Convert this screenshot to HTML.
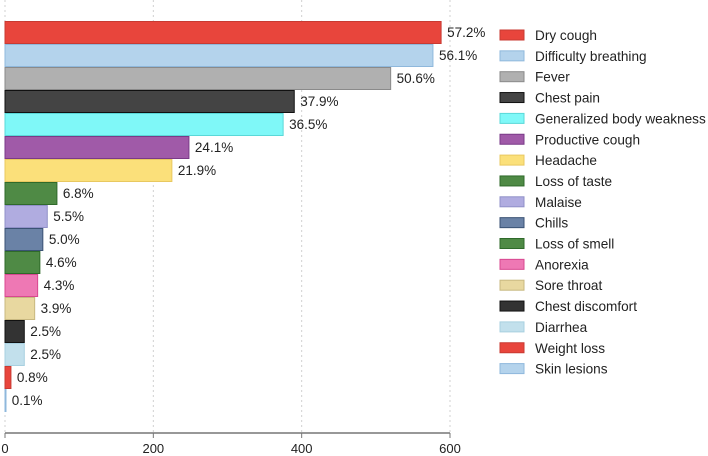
<!DOCTYPE html>
<html><head><meta charset="utf-8"><style>
body{margin:0;background:#fff;}
svg{display:block;font-family:"Liberation Sans",Arial,sans-serif;}
</style></head><body>
<svg id="chart" width="708" height="456"></svg>
<script>
const categories=["Dry cough","Difficulty breathing","Fever","Chest pain","Generalized body weakness","Productive cough","Headache","Loss of taste","Malaise","Chills","Loss of smell","Anorexia","Sore throat","Chest discomfort","Diarrhea","Weight loss","Skin lesions"];
const counts=[588,577,520,390,375,248,225,70,57,51,47,44,40,26,26,8,1];
const percents=["57.2%","56.1%","50.6%","37.9%","36.5%","24.1%","21.9%","6.8%","5.5%","5.0%","4.6%","4.3%","3.9%","2.5%","2.5%","0.8%","0.1%"];
const tickValues=[0,200,400,600];
const colors=["#e8453c","#b4d3ec","#b0b0b0","#444444","#7ff8f8","#a05aa8","#fbe07a","#4f8a45","#b0ace0","#6a82a6","#4f8a45","#ee78b4","#e8d8a0","#333333","#c2e0ec","#e8453c","#b4d3ec"];
const strokes=["#c83a32","#8fb8dc","#8a8a8a","#111111","#5ad8d8","#7a3a88","#e8c860","#2f6a2a","#9090c8","#3a5274","#2f6a2a","#d84890","#c8b880","#111111","#a8d0e0","#c83a32","#8fb8dc"];
const NS="http://www.w3.org/2000/svg";
const svg=document.getElementById('chart');
const x=v=>5+v*(445/600);
const yTop=i=>21+i*23;
function mk(t,a){const e=document.createElementNS(NS,t);for(const k in a)e.setAttribute(k,a[k]);svg.appendChild(e);return e;}
tickValues.forEach(t=>{
  const g=mk('line',{x1:x(t),x2:x(t),y1:0,y2:433,stroke:'#d0d0d0','stroke-dasharray':'2,3'});
  
  
  const tk=mk('line',{x1:x(t),x2:x(t),y1:433,y2:438,stroke:'#777'});
  
  
  const lb=mk('text',{x:x(t),y:453,'text-anchor':'middle','font-size':'13',fill:'#222'});
  lb.textContent=t;
  
  
});
const ax=mk('line',{x1:x(0),x2:x(600),y1:433,y2:433,stroke:'#777','stroke-width':1.5});


categories.forEach((c,i)=>{
  const r=mk('rect',{x:x(0),y:yTop(i)+0.5,width:Math.max(x(counts[i])-x(0),1),height:22,fill:colors[i],stroke:strokes[i]});
  
  
  const t=mk('text',{x:x(counts[i])+6,y:yTop(i)+16,'font-size':'13.5',fill:'#222'});
  t.textContent=percents[i];
  
  
  const ly=35+i*20.85;
  const s=mk('rect',{x:500,y:ly-5,width:24,height:10,fill:colors[i],stroke:strokes[i]});
  
  
  const lt=mk('text',{x:535,y:ly+5,'font-size':'13.6',fill:'#222'});
  lt.textContent=c;
  
  
});
</script>
</body></html>
